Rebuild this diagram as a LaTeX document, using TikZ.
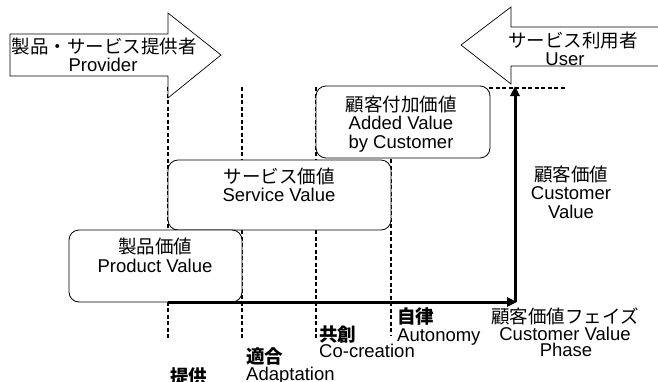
\documentclass[tikz,border=0pt]{standalone}
\usepackage{fontspec}
\setmainfont{Liberation Sans}
\newfontfamily\jp{Noto Sans CJK JP}
\usetikzlibrary{arrows.meta}
\begin{document}
\begin{tikzpicture}[x=1pt,y=-1pt,
  txt/.style={font=\fontsize{18.5}{18.5}\selectfont, inner sep=0pt, anchor=base},
  ltxt/.style={font=\fontsize{18.5}{18.5}\selectfont, inner sep=0pt, anchor=base west},
  valbox/.style={draw, line width=0.8pt, rounded corners=10pt, fill=white},
  guide/.style={line width=1.3pt, dash pattern=on 4pt off 2.5pt},
  axisline/.style={line width=3pt, -{Triangle[length=10pt,width=9pt]}},
  bigarrow/.style={draw, line width=0.7pt, fill=white, line join=miter}]

\useasboundingbox (0,0) rectangle (658,381);

% guide lines
\coordinate (g1t) at (168,87);  \coordinate (g1b) at (168,339);
\coordinate (g2t) at (242,87);  \coordinate (g2b) at (242,339);
\coordinate (g3t) at (316,87);  \coordinate (g3b) at (316,340);
\coordinate (g4t) at (391,159); \coordinate (g4b) at (391,335);
\draw[guide] (g1t) -- (g1b);
\draw[guide] (g2t) -- (g2b);
\draw[guide] (g3t) -- (g3b);
\draw[guide] (g4t) -- (g4b);
\coordinate (hl) at (489,88); \coordinate (hr) at (565,88);
\draw[line width=1.6pt, dash pattern=on 4pt off 2.5pt] (hl) -- (hr);

% big arrows
\draw[bigarrow] (10,34) -- (168,34) -- (168,13) -- (221,55) -- (168,98) -- (168,76) -- (10,76) -- cycle;
\path[fill=white] (662,27) -- (511,27) -- (511,7) -- (461,45) -- (511,84) -- (511,66) -- (662,66) -- cycle;
\draw[line width=0.7pt, line join=miter] (662,27) -- (511,27) -- (511,7) -- (461,45) -- (511,84) -- (511,66) -- (662,66);

\node[txt] (prov1) at (104,53.5) {\jp 製品・サービス提供者};
\node[txt] (prov2) at (103,71.5) {Provider};
\node[txt] (user1) at (573,47.5) {\jp サービス利用者};
\node[txt] (user2) at (565,65.5) {User};

% value boxes
\draw[valbox] (316,86) rectangle (490,158);
\draw[valbox] (168,160) rectangle (391,230);
\draw[valbox] (69,230) rectangle (242,302);

\node[txt] (av1) at (401,111.5) {\jp 顧客付加価値};
\node[txt] (av2) at (401,129.5) {Added Value};
\node[txt] (av3) at (401,148.5) {by Customer};
\node[txt] (sv1) at (279,183.5) {\jp サービス価値};
\node[txt] (sv2) at (279,201.5) {Service Value};
\node[txt] (pv1) at (155,253.5) {\jp 製品価値};
\node[txt] (pv2) at (155,272.5) {Product Value};

% axes
\coordinate (ax0) at (168,302);
\coordinate (corner) at (515,302);
\coordinate (ax1) at (517,302);
\coordinate (top) at (515,86);
\draw[axisline] (ax0) -- (ax1);
\draw[axisline] (corner) -- (top);

\node[txt] (cv1) at (571,181.5) {\jp 顧客価値};
\node[txt] (cv2) at (571,199.5) {Customer};
\node[txt] (cv3) at (571,218.5) {Value};

\node[txt] (ph1) at (565,323) {\jp 顧客価値フェイズ};
\node[txt] (ph2) at (565,340.5) {Customer Value};
\node[txt] (ph3) at (566,356.5) {Phase};

% phase labels
\node[ltxt] (au1) at (397,323.5) {\jp\bfseries 自律};
\node[ltxt] (au2) at (397,341.5) {Autonomy};
\node[ltxt] (co1) at (319,341.5) {\jp\bfseries 共創};
\node[ltxt] (co2) at (319,357.5) {Co-creation};
\node[ltxt] (ad1) at (246,363) {\jp\bfseries 適合};
\node[ltxt] (ad2) at (246,380.5) {Adaptation};
\node[ltxt] (pr1) at (170,383) {\jp\bfseries 提供};
\end{tikzpicture}
\end{document}
